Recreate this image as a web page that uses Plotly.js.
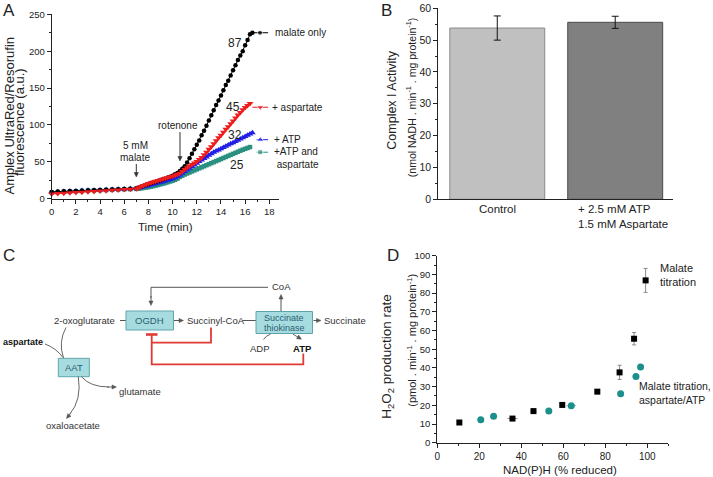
<!DOCTYPE html>
<html><head><meta charset="utf-8">
<script src="https://cdn.plot.ly/plotly-3.0.1.min.js"></script>
<style>html,body{margin:0;padding:0;background:#fff}#chart{width:713px;height:477px}</style>
</head><body><div id="chart"></div>
<script>
// ---------- Panel A data ----------
const time = [0,0.5,1,1.5,2,2.5,3,3.5,4,4.5,5,5.5,6,6.5,7,
7.2,7.4,7.6,7.8,8,8.2,8.4,8.6,8.8,9,
9.2,9.4,9.6,9.8,10,10.2,10.4,10.6,10.8,11,
11.2,11.4,11.6,11.8,12,12.2,12.4,12.6,12.8,13,
13.2,13.4,13.6,13.8,14,14.2,14.4,14.6,14.8,15,
15.2,15.4,15.6,15.8,16,16.2,16.4,16.6];
const malateOnly = [9.2,9.6,10,10.3,10.6,10.9,11.2,11.5,11.8,12.1,12.4,12.8,13.1,13.5,14,
15.2,16.4,17.6,18.8,20,21,22,23,24,25,
26.2,27.4,28.6,29.8,31,33,35,37.5,40.5,44,
49,55,61,67,73,79,86,92,99,106,
113,120,127,133,140,147,154,160,167,174,
181,188,194,200,208,215,223,225];
const plusAspartate = [6.4,6.9,7.4,7.9,8.4,8.9,9.4,9.9,10.4,10.9,11.4,11.9,12.4,12.9,13.5,
15,16.5,18,19.3,20.5,21.6,22.6,23.6,24.6,25.6,
26.6,27.6,28.6,29.6,30.6,31.8,33.2,34.5,37,39.5,
42,44.5,46.5,48.5,50.5,53,56,59.5,63,67,
70.5,74.5,78.5,82.5,86,90,94,97.6,101.5,105.5,
109.5,113.5,117,120.5,123.5,126.5,129,null];
const plusATP = [9,9.4,9.8,10.2,10.6,11,11.3,11.6,11.9,12.2,12.5,12.8,13.1,13.4,13.8,
14.5,15.3,16.1,16.9,17.7,18.6,19.5,20.4,21.3,22.2,
23.1,24,25,26,27,28.5,30,32,34.4,36.8,
39.2,41.3,43.5,45.8,48,50.3,52.5,54.6,56.7,58.8,
60.9,62.9,64.5,66.1,67.8,69.5,71.2,72.8,74.4,76,
77.6,79.3,81,82.6,84.2,85.9,87.6,89.3];
const plusATPAsp = [8.5,8.9,9.3,9.7,10.1,10.5,10.9,11.2,11.5,11.8,12.1,12.4,12.7,13,13.3,
13.7,14.1,14.6,15.1,15.6,16.3,17,17.8,18.6,19.5,
20.4,21.3,22.3,23.3,24.4,25.6,27.2,29.5,31.2,32.8,
34.2,35.6,37,38.4,39.8,41.2,42.6,44,45.4,46.8,
48.2,49.6,51,52.4,53.8,55.2,56.6,58,59.4,60.8,
62.2,63.6,65,66.4,67.6,68.8,70,null];
const rates = [87, 45, 32, 25];
const seriesNames = ['malate only', '+ aspartate', '+ ATP', '+ATP and<br> aspartate'];

// ---------- Panel B data ----------
const bCategories = ['Control', '+ 2.5 mM ATP<br>1.5 mM Aspartate'];
const bValues = [53.8, 55.6];
const bErrors = [3.8, 1.9];

// ---------- Panel D data ----------
const dMalateX = [10.5, 35.8, 45.8, 59.5, 76.2, 86.8, 93.7, 99.2];
const dMalateY = [10.8, 12.9, 16.9, 20.2, 27.3, 37.6, 55.6, 86.8];
const dMalateYErr = [0.8, 0.8, 0.6, 0.8, 0.6, 3.8, 3.3, 6.4];
const dMalateXErr = [0.8, 2.4, 1.4, 1.0, 1.2, 0.5, 0.5, 0.5];
const dAspX = [20.7, 26.8, 53.1, 63.8, 87.3, 94.6, 96.8];
const dAspY = [12.3, 14.2, 16.9, 19.8, 26.2, 35.4, 40.5];
const dAspXErr = [1.3, 0.5, 0.5, 2.3, 0.5, 0.5, 0.5];

// ---------- layout helpers ----------
const W = 713, H = 477;
const F = 'Liberation Sans, Arial, Helvetica, sans-serif';
const fx = p => p / W;
const fy = p => 1 - p / H;

function T(text, x, y, size, opt) {
  opt = opt || {};
  return {text: text, x: fx(x), y: fy(y), xref: 'paper', yref: 'paper', showarrow: false,
    xanchor: opt.xa || 'center', yanchor: 'middle', textangle: opt.angle || 0,
    align: opt.align || 'center',
    font: {family: F, size: size, color: opt.color || '#222'}};
}
function LN(x1, y1, x2, y2, color, w) {
  return {type: 'line', xref: 'paper', yref: 'paper', x0: fx(x1), y0: fy(y1), x1: fx(x2), y1: fy(y2),
    line: {color: color, width: w}};
}
function RECT(x1, y1, x2, y2, fill, border) {
  return {type: 'rect', xref: 'paper', yref: 'paper', x0: fx(x1), y0: fy(y2), x1: fx(x2), y1: fy(y1),
    fillcolor: fill, line: {color: border, width: 1}};
}
function PTH(s, color, w, fill) {
  const t = s.trim().split(/[\s,]+/);
  const out = [];
  let i = 0;
  while (i < t.length) {
    if (/[A-Za-z]/.test(t[i])) { out.push(t[i]); i++; }
    else { out.push(fx(+t[i]).toFixed(5) + ',' + fy(+t[i + 1]).toFixed(5)); i += 2; }
  }
  return {type: 'path', xref: 'paper', yref: 'paper', path: out.join(' '),
    line: {color: color, width: w}, fillcolor: fill || 'rgba(0,0,0,0)'};
}
// arrow drawn as shapes: shaft + small filled head (pixel coordinates, tail -> head)
function ARW(x1, y1, x2, y2, color, w) {
  const dx = x2 - x1, dy = y2 - y1, len = Math.hypot(dx, dy);
  const ux = dx / len, uy = dy / len, nx = -uy, ny = ux;
  const L = 4.5, hw = 2.1;
  const bx = x2 - ux * L, by = y2 - uy * L;
  S.push(LN(x1, y1, bx + ux, by + uy, color, w || 1));
  S.push(PTH('M ' + x2 + ' ' + y2 + ' L ' + (bx + nx * hw) + ' ' + (by + ny * hw) + ' L ' +
    (bx - nx * hw) + ' ' + (by - ny * hw) + ' Z', color, 0.5, color));
}

// ---------- traces ----------
const colA = ['#000000', '#ee1c1c', '#1f1fe6', '#2a9080'];
const symA = ['circle', 'triangle-down', 'triangle-up', 'square'];
const sizeA = [4.5, 6, 6, 4.5];
const seriesA = [malateOnly, plusAspartate, plusATP, plusATPAsp];
const drawOrder = [3, 2, 0, 1];
const traces = [];
drawOrder.forEach(i => {
  traces.push({type: 'scatter', mode: 'lines+markers', x: time, y: seriesA[i], xaxis: 'x', yaxis: 'y',
    line: {color: colA[i], width: 1}, marker: {symbol: symA[i], size: sizeA[i], color: colA[i]},
    cliponaxis: false, hoverinfo: 'skip', connectgaps: false});
});
// legend-style keys next to the curves (Origin style)
const keys = [
  {y: 225, x: [16.55, 17.23, 17.9]},
  {y: 124, x: [16.6, 17.25, 17.9]},
  {y: 80, x: [16.95, 17.25, 17.9]},
  {y: 63, x: [16.95, 17.25, 17.9]}
];
keys.forEach((k, i) => {
  traces.push({type: 'scatter', mode: 'lines+markers', x: k.x, y: [k.y, k.y, k.y], xaxis: 'x', yaxis: 'y',
    line: {color: colA[i], width: 1}, marker: {symbol: symA[i], size: [0, sizeA[i] + 0.5, 0], color: colA[i]},
    cliponaxis: false, hoverinfo: 'skip'});
});
// Panel B bars
traces.push({type: 'bar', x: bCategories, y: bValues, xaxis: 'x2', yaxis: 'y2', width: 0.805,
  marker: {color: ['#c0c0c0', '#808080'], line: {color: ['#8a8a8a', '#4a4a4a'], width: 1}},
  error_y: {type: 'data', array: bErrors, visible: true, color: '#111', thickness: 1, width: 3.5},
  hoverinfo: 'skip'});
// Panel D scatter
traces.push({type: 'scatter', mode: 'markers', x: dMalateX, y: dMalateY, xaxis: 'x3', yaxis: 'y3',
  marker: {symbol: 'square', size: 6, color: '#000'},
  error_y: {type: 'data', array: dMalateYErr, color: '#8a8a8a', thickness: 1, width: 2},
  error_x: {type: 'data', array: dMalateXErr, color: '#8a8a8a', thickness: 1, width: 0},
  cliponaxis: false, hoverinfo: 'skip'});
traces.push({type: 'scatter', mode: 'markers', x: dAspX, y: dAspY, xaxis: 'x3', yaxis: 'y3',
  marker: {symbol: 'circle', size: 7, color: '#1b8f8c'},
  error_x: {type: 'data', array: dAspXErr, color: '#9ac', thickness: 1, width: 0},
  cliponaxis: false, hoverinfo: 'skip'});

// ---------- axes ----------
function ax(extra) {
  return Object.assign({showline: true, linecolor: '#222', linewidth: 1, showgrid: false, zeroline: false,
    ticks: 'outside', ticklen: 4, tickwidth: 1, tickcolor: '#222', fixedrange: true,
    tickfont: {family: F, size: 9.5, color: '#222'}}, extra);
}
const minor = d => ({dtick: d, ticks: 'outside', ticklen: 2, tickwidth: 1, tickcolor: '#222', showgrid: false});

const layout = {
  width: W, height: H, margin: {l: 0, r: 0, t: 0, b: 0}, paper_bgcolor: '#fff', plot_bgcolor: 'rgba(0,0,0,0)',
  showlegend: false, bargap: 0.2,
  xaxis: ax({domain: [fx(51.7), fx(279)], range: [0, 18.8], tick0: 0, dtick: 2, minor: minor(1), anchor: 'y'}),
  yaxis: ax({domain: [fy(198.7), fy(14.3)], range: [0, 250], tick0: 0, dtick: 50, minor: minor(25), anchor: 'x'}),
  xaxis2: ax({type: 'category', domain: [fx(438.3), fx(673)], range: [-0.5, 1.49], showticklabels: false, ticks: '', anchor: 'y2'}),
  yaxis2: ax({domain: [fy(199.3), fy(8.3)], range: [0, 60], tick0: 0, dtick: 10, minor: minor(5), anchor: 'x2',
    tickfont: {family: F, size: 10.5, color: '#222'}}),
  xaxis3: ax({domain: [fx(437.3), fx(668.3)], range: [0, 110], tick0: 0, dtick: 20, minor: minor(10), anchor: 'y3',
    tickfont: {family: F, size: 10, color: '#222'}}),
  yaxis3: ax({domain: [fy(442.7), fy(255.7)], range: [0, 100], tick0: 0, dtick: 10, minor: minor(5), anchor: 'x3'}),
  annotations: [], shapes: []
};

const A = layout.annotations, S = layout.shapes;
// panel letters
A.push(T('A', 9, 10, 17), T('B', 386, 10, 17), T('C', 9, 255, 17), T('D', 393, 255, 17));

// Panel A texts
A.push(T('Amplex UltraRed/Resorufin', 8.5, 116, 13, {angle: -90}));
A.push(T('fluorescence (a.u.)', 19, 122, 13, {angle: -90}));
A.push(T('Time (min)', 165.7, 226.5, 11.5));
const rateLabelPos = [[235, 42.7], [233.3, 107.3], [235, 135], [236.7, 165]];
rates.forEach((r, i) => A.push(T(String(r), rateLabelPos[i][0], rateLabelPos[i][1], 12)));
const nameLabelPos = [[272.5, 32.7], [269.5, 107.3], [271.5, 139], [271.5, 158.5]];
seriesNames.forEach((n, i) => A.push(T(n, nameLabelPos[i][0], nameLabelPos[i][1], 10, {xa: 'left', align: 'left'})));
A.push(T('5 mM', 135, 145, 10), T('malate', 135, 157, 10));
ARW(136.3, 164, 136.3, 177, '#333');
A.push(T('rotenone', 177.7, 126, 10));
ARW(180, 132, 180, 161, '#333');

// Panel B texts
A.push(T('Complex I Activity', 391.7, 100, 12.5, {angle: -90}));
A.push(T('(nmol NADH . min<sup>-1</sup> . mg protein<sup>-1</sup>)', 410.7, 97.5, 10.5, {angle: -90}));
A.push(T(bCategories[0], 497.7, 209.5, 11.5));
A.push(T(bCategories[1], 622.5, 216.5, 11.5, {align: 'left'}));

// Panel D texts
A.push(T('H<sub>2</sub>O<sub>2</sub> production rate', 386.7, 356, 13.5, {angle: -90}));
A.push(T('(pmol . min<sup>-1</sup> . mg protein<sup>-1</sup>)', 411.7, 340, 11, {angle: -90}));
A.push(T('NAD(P)H (% reduced)', 560, 470, 11.5));
A.push(T('Malate<br>titration', 658, 274.5, 11, {xa: 'left', align: 'left'}));
A.push(T('Malate titration,<br>aspartate/ATP', 637, 393, 10.5, {xa: 'left', align: 'left'}));

// Panel C diagram
const g = '#555', dc = '#333', boxFill = '#a6dcdf', boxLine = '#5ea5ab', boxTxt = '#2c5d74', red = '#e03a33';
S.push(PTH('M 268 287.3 L 151 287.3 L 151 298', g, 1));
ARW(151, 296, 151, 305.5, g);
ARW(281, 311.5, 281, 294.5, g);
A.push(T('CoA', 281.7, 286, 9.5, {color: dc}));
A.push(T('2-oxoglutarate', 117, 320.5, 9.5, {xa: 'right', color: dc}));
S.push(LN(120, 320.5, 126, 320.5, g, 1));
S.push(RECT(126, 311, 173.5, 330, boxFill, boxLine));
A.push(T('OGDH', 149.7, 320.5, 9.5, {color: boxTxt}));
ARW(174, 320.5, 183.5, 320.5, g);
A.push(T('Succinyl-CoA', 184.5, 320.5, 9.5, {xa: 'left', color: dc}));
S.push(LN(242.5, 320.5, 256, 320.5, g, 1));
S.push(RECT(256, 311.5, 312.5, 333.5, boxFill, boxLine));
A.push(T('Succinate', 284.3, 318, 9, {color: boxTxt}), T('thiokinase', 284.3, 328.3, 9, {color: boxTxt}));
ARW(313.5, 320.5, 321, 320.5, g);
A.push(T('Succinate', 322.3, 320.5, 9.5, {xa: 'left', color: dc}));
// inhibition (red)
S.push(PTH('M 151.7 334.5 L 151.7 364.3 L 303.3 364.3 L 303.3 353.5', red, 1.8));
S.push(PTH('M 151.7 342.7 L 211 342.7 L 211 327.5', red, 1.8));
S.push(LN(146, 334.5, 157.5, 334.5, red, 2.6));
// ADP / ATP
A.push(T('ADP', 260, 348, 9.5, {color: dc}), T('<b>ATP</b>', 302.3, 348, 9.5, {color: '#111'}));
S.push(PTH('M 263.5 339.5 Q 266 335.5 270.5 334.2', g, 0.9));
ARW(293, 334.2, 301.5, 339.2, g, 0.9);
// AAT
S.push(RECT(58.3, 358.3, 89.3, 376.7, boxFill, boxLine));
A.push(T('AAT', 73.8, 367.5, 9.5, {color: boxTxt}));
A.push(T('<b>aspartate</b>', 0.5, 341.5, 9, {xa: 'left', color: '#111'}));
S.push(PTH('M 66 327.5 Q 58 342 63.5 358', g, 0.9));
S.push(PTH('M 45 344 Q 56 348 63 357.5', g, 0.9));
S.push(PTH('M 81.5 376.7 Q 90 387 109 387', g, 0.9));
ARW(107, 387, 116.5, 387, g, 0.9);
S.push(PTH('M 78.3 376.7 Q 82 400 69.5 414.5', g, 0.9));
ARW(70.5, 413.5, 66.5, 418.5, g, 0.9);
A.push(T('glutamate', 140, 391, 9.5, {color: dc}));
A.push(T('oxaloacetate', 72.7, 425.7, 9.5, {color: dc}));

Plotly.newPlot('chart', traces, layout, {staticPlot: true, displayModeBar: false});
</script></body></html>
